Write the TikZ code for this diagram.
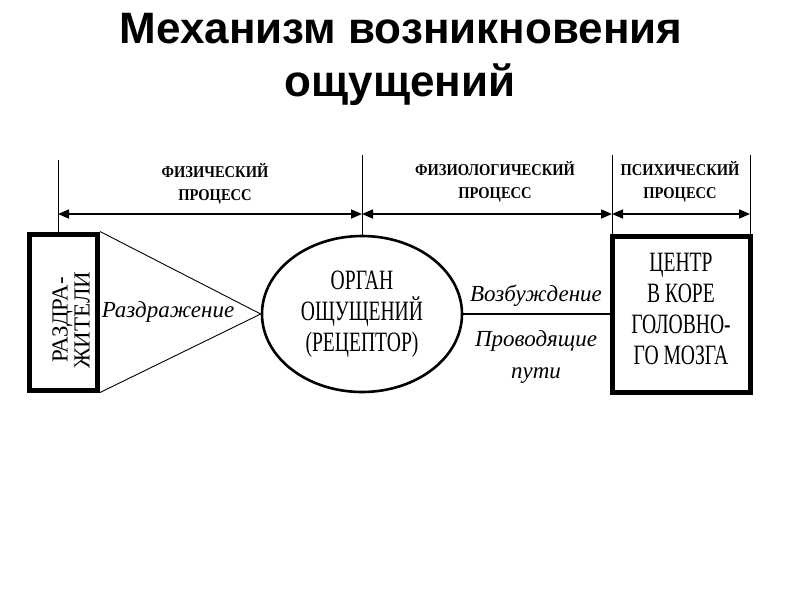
\documentclass[tikz,border=0pt]{standalone}
\usepackage{fontspec}
\setmainfont{Liberation Serif}
\newfontfamily\titlefont{Liberation Sans}
\newfontfamily\condfont[FakeStretch=0.7]{Liberation Serif}
\newfontfamily\hdrfont[FakeStretch=0.88]{Liberation Serif}
\usetikzlibrary{arrows.meta,shapes.geometric}
\begin{document}
\begin{tikzpicture}[x=1pt,y=-1pt,
  dimline/.style={line width=1.6pt,{Triangle[length=11pt,width=9pt]}-{Triangle[length=11pt,width=9pt]}},
  tick/.style={line width=0.8pt},
  titlestyle/.style={font=\titlefont\bfseries\fontsize{44}{50}\selectfont,anchor=base},
  hdr/.style={font=\hdrfont\bfseries\fontsize{16.5}{23}\selectfont,align=center},
  lbl/.style={font=\fontsize{23}{32}\selectfont\itshape},
  boxtext/.style={font=\condfont\fontsize{28}{31}\selectfont,align=center}]
\useasboundingbox (0,0) rectangle (800,600);
% title
\node[titlestyle] (title1) at (401,43) {Механизм возникновения};
\node[titlestyle] (title2) at (400,96) {ощущений};
% nodes
\node[draw,line width=5pt,minimum width=68pt,minimum height=156pt,inner sep=0pt] (stim) at (63.5,312) {};
\node[font=\fontsize{23}{22}\selectfont,align=center,rotate=90] (stimtxt) at (71,320) {РАЗДРА-\\ЖИТЕЛИ};
\node[draw,ellipse,line width=2.6pt,minimum width=200pt,minimum height=156pt,inner sep=0pt,boxtext] (organ) at (362,314) {ОРГАН\\ОЩУЩЕНИЙ\\(РЕЦЕПТОР)};
\node[draw,line width=5pt,minimum width=138pt,minimum height=156pt,inner sep=0pt] (center) at (681,314) {};
\node[boxtext] (centertxt) at (681,309) {ЦЕНТР\\В КОРЕ\\ГОЛОВНО-\\ГО МОЗГА};
% triangle and connection
\draw[line width=0.9pt] (stim.north east) -- (organ.west) -- (stim.south east);
\draw[line width=1.4pt] (organ.east) -- (center.west);
% labels
\node[lbl] (razd) at (168,312) {Раздражение};
\node[lbl] (vozb) at (536,296) {Возбуждение};
\node[lbl,align=center] (prov) at (536,357) {Проводящие\\пути};
% ticks
\coordinate (t1a) at (58,160);
\coordinate (t2a) at (362,155);
\coordinate (t3a) at (612,155);
\coordinate (t4a) at (750,155);
\draw[tick] (t1a) -- (stim.north -| t1a);
\draw[tick] (t2a) -- (organ.north);
\draw[tick] (t3a) -- (center.north -| t3a);
\draw[tick] (t4a) -- (center.north -| t4a);
\coordinate (d1) at (58,214); \coordinate (d2) at (362,214);
\coordinate (d3) at (612,214); \coordinate (d4) at (750,214);
\draw[dimline] (d1) -- (d2);
\draw[dimline] (d2) -- (d3);
\draw[dimline] (d3) -- (d4);
\node[hdr] (h1) at (215,184) {ФИЗИЧЕСКИЙ\\ПРОЦЕСС};
\node[hdr] (h2) at (495,182) {ФИЗИОЛОГИЧЕСКИЙ\\ПРОЦЕСС};
\node[hdr] (h3) at (680,182) {ПСИХИЧЕСКИЙ\\ПРОЦЕСС};
\end{tikzpicture}
\end{document}
